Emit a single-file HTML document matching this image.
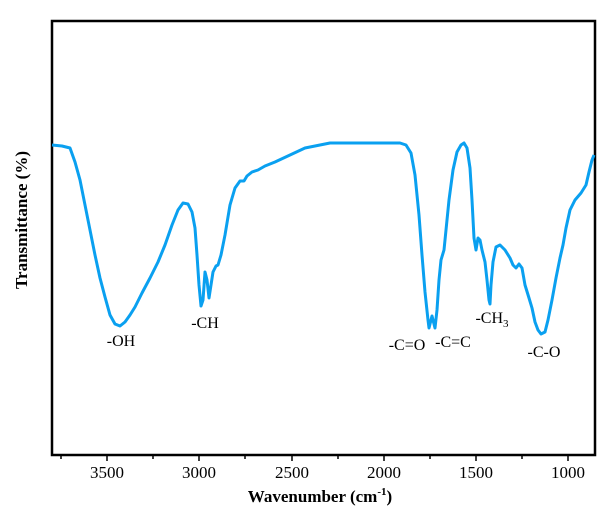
<!DOCTYPE html>
<html><head><style>body{margin:0;background:#fff}svg{display:block}</style></head><body>
<svg width="615" height="519" viewBox="0 0 615 519" xmlns="http://www.w3.org/2000/svg" font-family="Liberation Serif, serif">
<rect x="52" y="21" width="543" height="434" fill="none" stroke="#000" stroke-width="2.5"/>
<g stroke="#000" stroke-width="1.5">
<line x1="61" y1="455" x2="61" y2="459"/><line x1="107" y1="455" x2="107" y2="461"/><line x1="153" y1="455" x2="153" y2="459"/>
<line x1="199" y1="455" x2="199" y2="461"/><line x1="245" y1="455" x2="245" y2="459"/><line x1="292" y1="455" x2="292" y2="461"/>
<line x1="338" y1="455" x2="338" y2="459"/><line x1="384" y1="455" x2="384" y2="461"/><line x1="430" y1="455" x2="430" y2="459"/>
<line x1="476" y1="455" x2="476" y2="461"/><line x1="522" y1="455" x2="522" y2="459"/><line x1="568" y1="455" x2="568" y2="461"/>
</g>
<g font-size="17" text-anchor="middle" fill="#000">
<text x="107" y="478">3500</text><text x="199" y="478">3000</text><text x="292" y="478">2500</text>
<text x="384" y="478">2000</text><text x="476" y="478">1500</text><text x="568" y="478">1000</text>
</g>
<text x="320" y="502" font-size="17" font-weight="bold" text-anchor="middle">Wavenumber (cm<tspan font-size="11" dy="-7">-1</tspan><tspan dy="7">)</tspan></text>
<text transform="translate(27,220) rotate(-90)" font-size="17" font-weight="bold" text-anchor="middle">Transmittance (%)</text>
<path fill="none" stroke="#0aa0f0" stroke-width="3" stroke-linejoin="round" d="M52,145 L62,146 L70,148 L75,162 L80,180 L85,205 L90,230 L95,255 L100,278 L105,297 L110,315 L115,324 L120,326 L125,322 L130,315 L135,307 L142,293 L150,278 L158,262 L165,245 L172,225 L178,210 L183,203 L188,204 L192,212 L195,228 L197,255 L199,285 L201,306 L203,300 L205,272 L207,280 L209,298 L211,285 L213,272 L216,266 L218,265 L221,255 L225,235 L230,205 L235,188 L240,181 L244,181 L247,176 L252,172 L258,170 L265,166 L275,162 L290,155 L305,148 L320,145 L330,143 L400,143 L406,145 L411,153 L415,175 L419,215 L422,255 L425,292 L428,320 L429,328 L431,320 L432,316 L434,324 L435,328 L437,310 L439,280 L441,260 L444,250 L446,230 L449,200 L453,170 L457,152 L461,145 L464,143 L467,148 L470,168 L472,200 L474,238 L476,250 L478,238 L480,240 L482,250 L485,262 L487,280 L489,300 L490,304 L491,285 L493,262 L496,247 L500,245 L505,250 L510,258 L513,265 L516,268 L519,264 L522,268 L525,285 L529,298 L532,308 L535,322 L538,330 L541,334 L545,332 L548,320 L552,300 L556,278 L560,258 L563,245 L566,228 L570,210 L575,200 L581,193 L586,185 L589,172 L592,160 L594,155"/>
<g font-size="16" fill="#000" text-anchor="middle">
<text x="121" y="346">-OH</text><text x="205" y="328">-CH</text>
<text x="407" y="350">-C=O</text><text x="453" y="347">-C=C</text>
<text x="492" y="323">-CH<tspan font-size="11" dy="4">3</tspan></text><text x="544" y="357">-C-O</text>
</g>
</svg>
</body></html>
